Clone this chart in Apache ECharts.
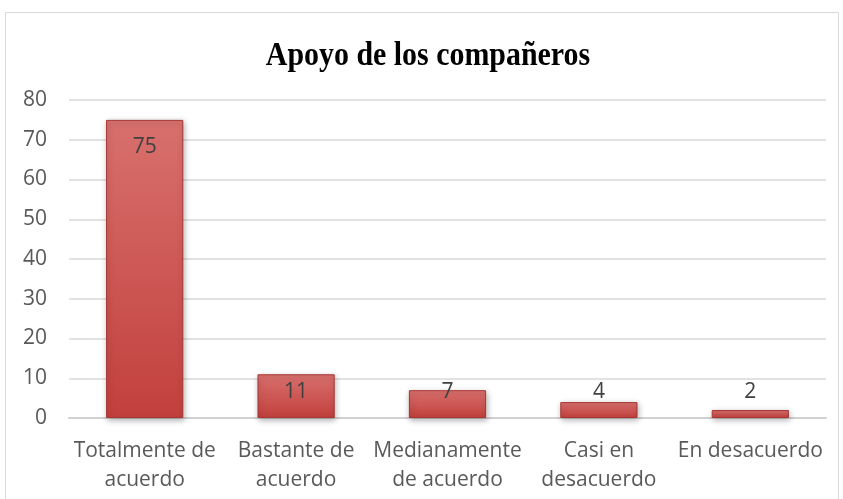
<!DOCTYPE html>
<html><head><meta charset="utf-8">
<script src="https://cdn.jsdelivr.net/npm/echarts@6/dist/echarts.min.js"></script>
<style>html,body{margin:0;padding:0;background:#fff}#c{width:843px;height:499px}</style>
</head><body><div id="c"></div>
<script>
const titleText = 'Apoyo de los compañeros';
const categories = ['Totalmente de\nacuerdo', 'Bastante de\nacuerdo', 'Medianamente\nde acuerdo', 'Casi en\ndesacuerdo', 'En desacuerdo'];
const values = [75, 11, 7, 4, 2];
const yTicks = { min: 0, max: 80, interval: 10 };

const chart = echarts.init(document.getElementById('c'));
const barGrad = new echarts.graphic.LinearGradient(0, 0, 0, 1, [
  { offset: 0, color: '#d8706d' },
  { offset: 1, color: '#c2403d' }
]);
const data = values.map((v, i) => ({
  value: v,
  label: i === 0
    ? { position: 'insideTop', distance: 17 }
    : { position: 'insideBottom', distance: 15 }
}));
chart.setOption({
  animation: false,
  graphic: [{
    type: 'rect', shape: { x: 5.5, y: 12.5, width: 833, height: 500 },
    style: { fill: 'none', stroke: '#d9d9d9', lineWidth: 1 }, silent: true, z: -1
  }, {
    type: 'text', x: 428, y: 56, scaleX: 0.88, silent: true,
    style: { text: titleText, font: 'bold 34px "Liberation Serif"', fill: '#000', align: 'center', verticalAlign: 'middle' }
  }],
  grid: { left: 69, right: 17, top: 100, bottom: 81, containLabel: false },
  xAxis: {
    type: 'category', data: categories,
    axisLine: { lineStyle: { color: '#d0d0d0', width: 2 } },
    axisTick: { show: false },
    axisLabel: { fontFamily: 'Open Sans', fontSize: 21, color: '#595959', lineHeight: 29, margin: 19, interval: 0 }
  },
  yAxis: {
    type: 'value', min: yTicks.min, max: yTicks.max, interval: yTicks.interval,
    axisLine: { show: false }, axisTick: { show: false },
    splitLine: { lineStyle: { color: '#d9d9d9', width: 1.5 } },
    axisLabel: { fontFamily: 'Open Sans', fontSize: 21, color: '#595959', margin: 22 }
  },
  series: [{
    type: 'bar', data: data, barWidth: '51%',
    itemStyle: {
      color: barGrad, borderColor: '#a83532', borderWidth: 1,
      shadowColor: 'rgba(0,0,0,0.3)', shadowBlur: 6, shadowOffsetX: 1, shadowOffsetY: 2
    },
    label: { show: true, fontFamily: 'Open Sans', fontSize: 21, color: '#404040', lineHeight: 21 }
  }]
});
</script></body></html>
